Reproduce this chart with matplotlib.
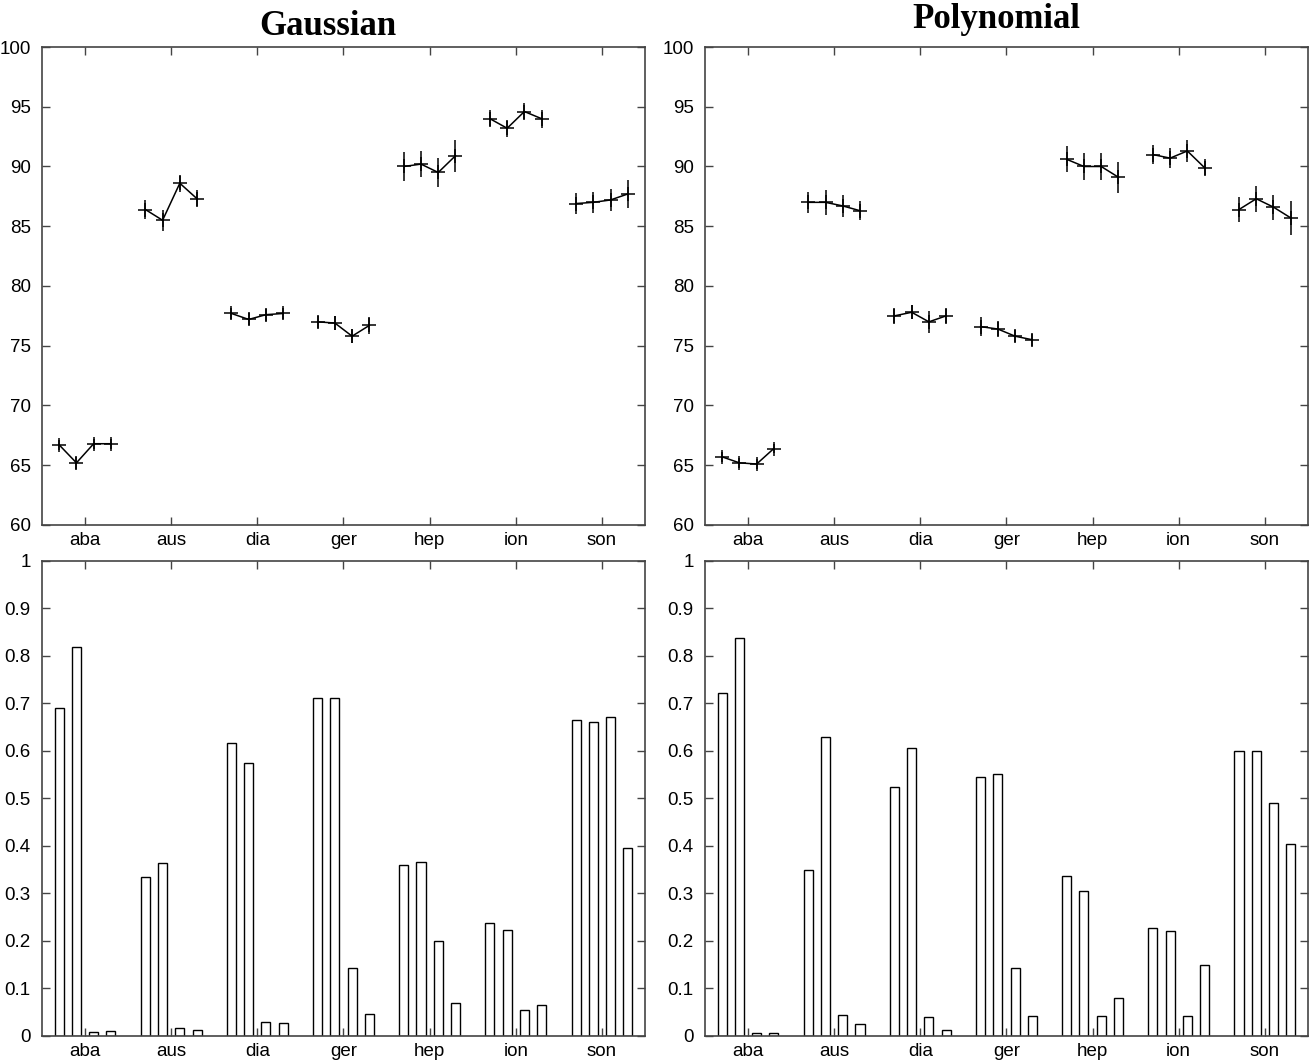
import numpy as np
import matplotlib
matplotlib.use("Agg")
import matplotlib.pyplot as plt

# -------------------------------------------------------------------
# Data
# -------------------------------------------------------------------
datasets = ["aba", "aus", "dia", "ger", "hep", "ion", "son"]

# accuracy (%) -- 4 settings per dataset
gauss_acc = [
    [66.7, 65.2, 66.8, 66.8],
    [86.4, 85.5, 88.6, 87.3],
    [77.7, 77.2, 77.6, 77.7],
    [77.0, 76.9, 75.8, 76.7],
    [90.0, 90.2, 89.5, 90.9],
    [94.0, 93.2, 94.6, 94.0],
    [86.9, 87.0, 87.2, 87.7],
]
gauss_err = [
    [0.4, 0.5, 0.4, 0.4],
    [0.8, 0.9, 0.7, 0.7],
    [0.5, 0.5, 0.5, 0.5],
    [0.5, 0.6, 0.6, 0.7],
    [1.25, 1.1, 1.2, 1.35],
    [0.7, 0.7, 0.7, 0.75],
    [0.85, 0.9, 0.95, 1.15],
]
poly_acc = [
    [65.7, 65.2, 65.1, 66.4],
    [87.0, 87.0, 86.7, 86.3],
    [77.5, 77.8, 77.0, 77.5],
    [76.6, 76.4, 75.8, 75.5],
    [90.6, 90.0, 90.0, 89.1],
    [91.0, 90.7, 91.3, 89.9],
    [86.4, 87.3, 86.6, 85.7],
]
poly_err = [
    [0.4, 0.4, 0.4, 0.4],
    [0.85, 1.05, 0.9, 0.8],
    [0.7, 0.6, 0.9, 0.7],
    [0.8, 0.7, 0.5, 0.5],
    [1.1, 1.1, 1.15, 1.3],
    [0.8, 0.85, 0.9, 0.7],
    [1.05, 1.1, 1.05, 1.4],
]

# fractions shown as bars
gauss_frac = [
    [0.690, 0.818, 0.008, 0.010],
    [0.335, 0.365, 0.017, 0.012],
    [0.617, 0.575, 0.030, 0.027],
    [0.712, 0.712, 0.143, 0.046],
    [0.360, 0.367, 0.200, 0.070],
    [0.238, 0.223, 0.055, 0.066],
    [0.665, 0.662, 0.671, 0.395],
]
poly_frac = [
    [0.723, 0.838, 0.007, 0.007],
    [0.350, 0.630, 0.045, 0.026],
    [0.525, 0.607, 0.040, 0.013],
    [0.545, 0.552, 0.143, 0.043],
    [0.337, 0.305, 0.043, 0.079],
    [0.228, 0.220, 0.042, 0.150],
    [0.600, 0.600, 0.490, 0.405],
]

offsets = [-0.3, -0.1, 0.1, 0.3]
spine_col = "#444444"
sans = ["Liberation Sans", "DejaVu Sans"]


def style_axes(ax, ylim, yticks, yticklabels):
    ax.set_xlim(0.5, 7.5)
    ax.set_ylim(*ylim)
    ax.set_xticks(np.arange(1, 8))
    ax.set_xticklabels(datasets, fontsize=13.5, family=sans)
    ax.set_yticks(yticks)
    ax.set_yticklabels(yticklabels, fontsize=13.5, family=sans)
    ax.tick_params(direction="in", top=True, right=True, length=6, width=1,
                   color=spine_col)
    ax.tick_params(axis="y", pad=8)
    ax.tick_params(axis="x", pad=5)
    for s in ax.spines.values():
        s.set_color(spine_col)
        s.set_linewidth(1.2)


def plot_acc(ax, acc, err):
    for i, (vals, errs) in enumerate(zip(acc, err)):
        xs = [i + 1 + o for o in offsets]
        ax.errorbar(xs, vals, yerr=errs, fmt="-", color="black", lw=1.1,
                    elinewidth=1.1, capsize=0)
        ax.plot(xs, vals, "+", color="black", ms=10, mew=1.1)
    style_axes(ax, (60, 100), np.arange(60, 101, 5),
               [str(v) for v in range(60, 101, 5)])


def plot_frac(ax, frac):
    for i, vals in enumerate(frac):
        xs = [i + 1 + o for o in offsets]
        ax.bar(xs, vals, width=0.105, color="white", edgecolor="black", lw=1.0)
    ticks = np.round(np.arange(0, 1.01, 0.1), 1)
    style_axes(ax, (0, 1), ticks,
               ["0" if t == 0 else ("1" if t == 1 else f"{t:.1f}") for t in ticks])


fig = plt.figure(figsize=(13.12, 10.61), dpi=100)
w = 0.4596
ax1 = fig.add_axes([0.032, 0.5052, w, 0.4505])
ax2 = fig.add_axes([0.5373, 0.5052, w, 0.4505])
ax3 = fig.add_axes([0.032, 0.0236, w, 0.4477])
ax4 = fig.add_axes([0.5373, 0.0236, w, 0.4477])

plot_acc(ax1, gauss_acc, gauss_err)
plot_acc(ax2, poly_acc, poly_err)
plot_frac(ax3, gauss_frac)
plot_frac(ax4, poly_frac)

title_font = dict(fontsize=25, fontweight="bold", ha="center", va="baseline",
                  family=["Liberation Serif", "DejaVu Serif"])
ax1.text(0.474, 1.025, "Gaussian", transform=ax1.transAxes, **title_font)
ax2.text(0.483, 1.04, "Polynomial", transform=ax2.transAxes, **title_font)

fig.savefig("out.png", dpi=100)
